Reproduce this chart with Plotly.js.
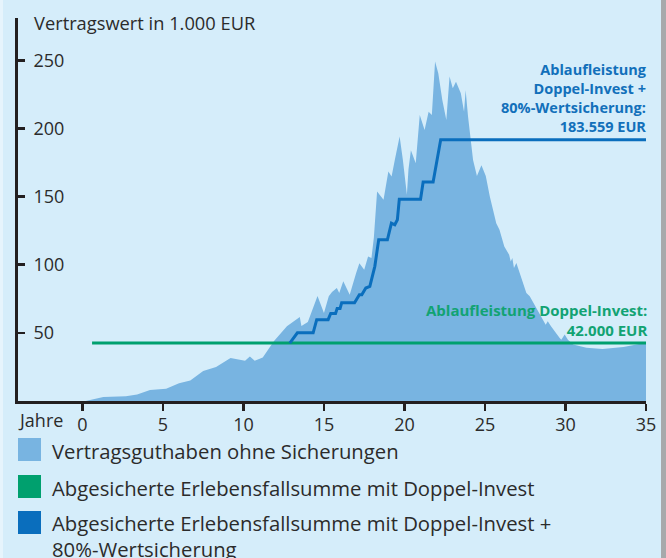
<!DOCTYPE html>
<html>
<head>
<meta charset="utf-8">
<script src="https://cdn.plot.ly/plotly-3.0.1.min.js"></script>
<style>
  html, body { margin: 0; padding: 0; background: #D5EDFA; }
  #chart { width: 666px; height: 558px; }
</style>
</head>
<body>
<div id="chart"></div>
<script>
// ---- data ----
const years = [0.2, 1.3, 2.7, 3.4, 4.2, 5.2, 6.0, 6.7, 7.5, 8.3, 9.2, 10.1, 10.4, 10.7, 11.2, 11.6, 11.9, 12.7, 13.5, 13.6, 14.0, 14.6, 15.0, 15.3, 15.5, 15.8, 15.95, 16.2, 16.6, 17.0, 17.2, 17.5, 17.74, 17.95, 18.1, 18.3, 18.7, 19.0, 19.2, 19.4, 19.7, 19.9, 20.15, 20.25, 20.4, 20.7, 20.95, 21.25, 21.5, 21.7, 21.9, 22.1, 22.35, 22.6, 22.8, 23.0, 23.2, 23.5, 23.7, 23.8, 23.95, 24.26, 24.5, 24.78, 25.05, 25.3, 25.7, 25.9, 26.2, 26.5, 26.6, 26.7, 26.8, 26.95, 27.57, 27.78, 28.6, 28.77, 28.9, 29.1, 29.64, 29.74, 29.95, 30.15, 30.47, 31.3, 32.3, 33.6, 34.9, 35];
const contractValue = [0, 3, 3.5, 4.8, 8, 9, 13, 15, 22, 25, 31.6, 29.5, 32.6, 29.5, 32, 38.8, 44, 54.8, 61.7, 55, 58, 77, 64.6, 76.8, 80, 82.9, 79.3, 87.8, 78, 93.9, 101, 96.3, 106, 104.9, 120, 153.7, 147.6, 168.3, 164.7, 176.9, 194, 177, 151.3, 170, 184, 174.5, 209.9, 198.9, 212.3, 209.9, 249, 240.4, 220.9, 206.2, 238, 229.5, 234.3, 225.8, 212.3, 228, 208.6, 176.9, 165, 173, 165, 150, 130.5, 125.6, 113.4, 107.3, 102.4, 104.9, 97.6, 101.2, 79.3, 76.8, 59.7, 56, 58.5, 54.8, 46.3, 45, 48.7, 45, 41.4, 39, 38.2, 39.7, 42.6, 42];

const guaranteeYears = [0.6, 35];
const guaranteeValue = [42.5, 42.5];

const lockYears = [12.88, 13.35, 14.33, 14.55, 15.26, 15.42, 15.72, 15.82, 16.0, 16.1, 16.9, 17.2, 17.35, 17.6, 17.85, 18.16, 18.4, 18.94, 19.19, 19.4, 19.56, 19.68, 21.0, 21.16, 21.78, 22.25, 35];
const lockValue  = [42.5, 50, 50, 59.7, 59.7, 64.2, 64.2, 67.8, 67.8, 72, 72, 78, 78, 82.9, 84.1, 98.8, 118.3, 118.3, 130.5, 129.3, 133, 148.1, 148.1, 160.6, 160.6, 191.6, 191.6];

const xTickVals = [0, 5, 10, 15, 20, 25, 30, 35];
const yTickVals = [50, 100, 150, 200, 250];

const legendLabels = [
  'Vertragsguthaben ohne Sicherungen',
  'Abgesicherte Erlebensfallsumme mit Doppel-Invest',
  'Abgesicherte Erlebensfallsumme mit Doppel-Invest +<br>80%-Wertsicherung'
];
const yAxisTitle = 'Vertragswert in 1.000 EUR';
const xAxisTitle = 'Jahre';
const noteLock = ['Ablaufleistung', 'Doppel-Invest +', '80%-Wertsicherung:', '183.559 EUR'];
const noteGuarantee = ['Ablaufleistung Doppel-Invest:', '42.000 EUR'];

// ---- styles / layout ----
const C_AREA = '#78B4E1', C_GREEN = '#00A06E', C_BLUE = '#0A6EBD', C_TEXT = '#2B2B2B', C_AXIS = '#231F20';
const FONT = 'Open Sans, sans-serif';
const W = 666, H = 558, ML = 18, MR = 20, MT = 18, MB = 157;
const PW = W - ML - MR, PH = H - MT - MB;
const px = x => (x - ML) / PW;
const py = y => (H - MB - y) / PH;
const bold = lines => lines.map(l => '<b>' + l + '</b>').join('<br>');

const traces = [
  { x: years, y: contractValue, type: 'scatter', mode: 'lines', fill: 'tozeroy',
    fillcolor: C_AREA, line: { width: 0, color: C_AREA }, hoverinfo: 'skip', showlegend: false },
  { x: guaranteeYears, y: guaranteeValue, type: 'scatter', mode: 'lines',
    line: { width: 3, color: C_GREEN }, hoverinfo: 'skip', showlegend: false },
  { x: lockYears, y: lockValue, type: 'scatter', mode: 'lines',
    line: { width: 3, color: C_BLUE }, hoverinfo: 'skip', showlegend: false }
];

const legendColors = [C_AREA, C_GREEN, C_BLUE];
const legendSquareTop = [438, 475, 511];
const legendTextY = [451, 488, 536];

const shapes = [
  { type: 'rect', xref: 'paper', yref: 'paper', x0: px(661), x1: px(667), y0: py(H + 1), y1: py(-1),
    fillcolor: '#A7A9AB', line: { width: 0 }, layer: 'below' },
  { type: 'rect', xref: 'paper', yref: 'paper', x0: px(-1), x1: px(3), y0: py(H + 1), y1: py(-1),
    fillcolor: '#E6F4FC', line: { width: 0 }, layer: 'below' }
];
legendColors.forEach((c, i) => {
  shapes.push({ type: 'rect', xref: 'paper', yref: 'paper', x0: px(18), x1: px(41),
    y0: py(legendSquareTop[i] + 23), y1: py(legendSquareTop[i]), fillcolor: c, line: { width: 0 } });
});

const annotations = [
  { xref: 'paper', yref: 'paper', x: px(32), y: py(22), xanchor: 'left', yanchor: 'middle',
    text: yAxisTitle, showarrow: false, font: { family: FONT, size: 18.3, color: C_TEXT } },
  { xref: 'paper', yref: 'paper', x: px(16), y: py(420), xanchor: 'left', yanchor: 'middle',
    text: xAxisTitle, showarrow: false, font: { family: FONT, size: 18, color: C_TEXT } },
  { xref: 'paper', yref: 'paper', x: px(649), y: py(98), xanchor: 'right', yanchor: 'middle', align: 'right',
    text: bold(noteLock), showarrow: false,
    font: { family: FONT, size: 14.5, color: '#1270BA' } },
  { xref: 'paper', yref: 'paper', x: px(649), y: py(320), xanchor: 'right', yanchor: 'middle', align: 'right',
    text: bold(noteGuarantee), showarrow: false,
    font: { family: FONT, size: 15, color: '#12A373' } }
];
legendLabels.forEach((t, i) => {
  annotations.push({ xref: 'paper', yref: 'paper', x: px(50), y: py(legendTextY[i]), xanchor: 'left', yanchor: 'middle',
    align: 'left', text: t, showarrow: false, font: { family: FONT, size: 20.3, color: C_TEXT } });
});

const layout = {
  width: W, height: H,
  margin: { l: ML, r: MR, t: MT, b: MB, pad: 0 },
  paper_bgcolor: '#D5EDFA', plot_bgcolor: 'rgba(0,0,0,0)',
  showlegend: false,
  xaxis: {
    range: [-4, 35], tickvals: xTickVals, ticktext: xTickVals.map(String),
    showline: true, linewidth: 3, linecolor: C_AXIS, mirror: false,
    ticks: 'outside', ticklen: 7, tickwidth: 2.5, tickcolor: C_AXIS,
    ticklabelstandoff: -2,
    showgrid: false, zeroline: false,
    tickfont: { family: FONT, size: 18, color: C_TEXT }
  },
  yaxis: {
    range: [0, 281], tickvals: yTickVals, ticktext: yTickVals.map(String),
    showline: true, linewidth: 3, linecolor: C_AXIS,
    ticks: 'inside', ticklen: 7, tickwidth: 2.5, tickcolor: C_AXIS,
    ticklabelposition: 'inside', ticklabelstandoff: 9,
    showgrid: false, zeroline: false,
    tickfont: { family: FONT, size: 18, color: C_TEXT }
  },
  shapes: shapes,
  annotations: annotations
};

Plotly.newPlot('chart', traces, layout, { staticPlot: true, displayModeBar: false });
</script>
</body>
</html>
